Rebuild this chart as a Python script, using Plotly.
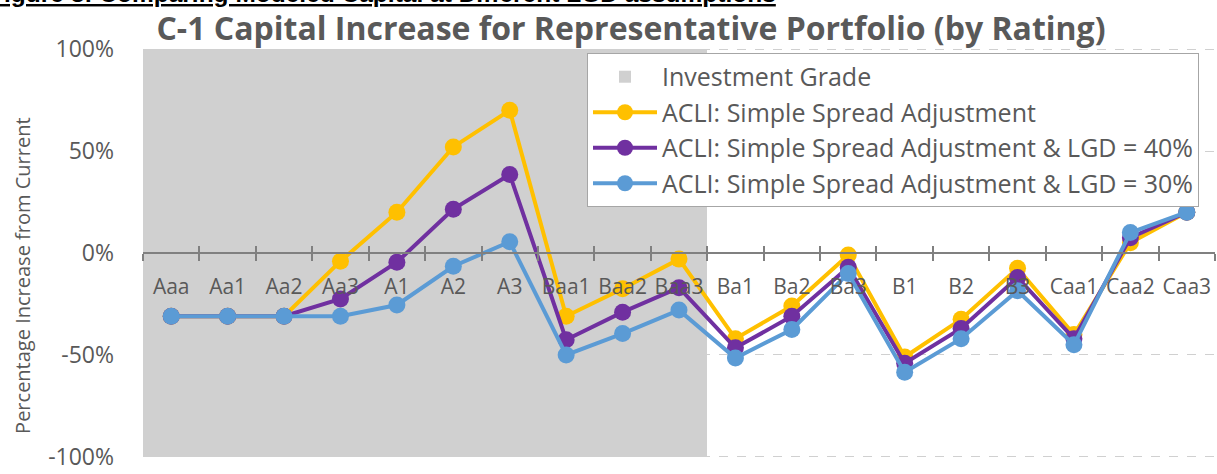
import plotly.graph_objects as go

categories = ["Aaa", "Aa1", "Aa2", "Aa3", "A1", "A2", "A3", "Baa1", "Baa2", "Baa3",
              "Ba1", "Ba2", "Ba3", "B1", "B2", "B3", "Caa1", "Caa2", "Caa3"]
investment_grade = ["Aaa", "Aa1", "Aa2", "Aa3", "A1", "A2", "A3", "Baa1", "Baa2", "Baa3"]

simple_spread = [-31, -31, -31, -4, 20, 52, 70, -31, -17.5, -3,
                 -42, -26, -1, -51, -32.5, -7.5, -40, 5, 20]
lgd_40 = [-31, -31, -31, -22.5, -4.5, 21.5, 38.5, -42.5, -29, -17,
          -46.5, -31, -7, -54, -37, -12, -42, 7.5, 20]
lgd_30 = [-31, -31, -31, -31, -25.5, -6.5, 5.5, -50, -39.5, -28,
          -51.5, -37.5, -10, -58.5, -42, -18.5, -45, 10, 20]

y_min, y_max = -100, 100
y_ticks = [-100, -50, 0, 50, 100]
y_tick_labels = ["-100%", "-50%", "0%", "50%", "100%"]

series_names = ["ACLI: Simple Spread Adjustment",
                "ACLI: Simple Spread Adjustment & LGD = 40%",
                "ACLI: Simple Spread Adjustment & LGD = 30%"]
series_colors = ["#FFC000", "#7030A0", "#5B9BD5"]

W, H = 1217, 474
L, R, T, B = 143, 2, 48, 14
pw, ph = W - L - R, H - T - B

def px_x(p):
    return (p - L) / pw

def px_y(p):
    return (H - B - p) / ph

grey_text = "#595959"
font_family = "'Open Sans', 'Noto Sans', sans-serif"

fig = go.Figure()

fig.add_trace(go.Bar(
    x=investment_grade,
    y=[y_max - y_min] * len(investment_grade),
    base=[y_min] * len(investment_grade),
    width=1,
    marker=dict(color="#d0d0d0", line=dict(width=0)),
    name="Investment Grade",
    hoverinfo="skip",
))

for name, vals, col in zip(series_names, [simple_spread, lgd_40, lgd_30], series_colors):
    fig.add_trace(go.Scatter(
        x=categories, y=vals, name=name, mode="lines+markers",
        line=dict(color=col, width=4),
        marker=dict(color=col, size=17),
    ))

pad = 0.5
fig.update_layout(
    width=W, height=H,
    margin=dict(l=L, r=R, t=T, b=B),
    paper_bgcolor="white", plot_bgcolor="white",
    font=dict(family=font_family, color=grey_text),
    bargap=0,
    showlegend=True,
    title=dict(
        text="<b>C-1 Capital Increase for Representative Portfolio (by Rating)</b>",
        x=631 / W, xref="container", xanchor="center",
        y=1 - 29 / H, yref="container", yanchor="middle",
        font=dict(size=32, color=grey_text, family=font_family),
    ),
    legend=dict(
        x=px_x(587), y=px_y(53), xanchor="left", yanchor="top",
        bgcolor="white", bordercolor="#a6a6a6", borderwidth=1,
        font=dict(size=25, color=grey_text, family=font_family),
        traceorder="normal", itemwidth=64,
    ),
    xaxis=dict(
        type="category", categoryorder="array", categoryarray=categories,
        range=[-0.5, len(categories) - 0.5],
        anchor="free", position=0.5,
        showline=True, linecolor="#808080", linewidth=2,
        ticks="outside", tickson="boundaries", ticklen=7, tickwidth=1.5, tickcolor="#808080",
        showgrid=False, tickangle=0,
        tickfont=dict(size=21, color=grey_text, family=font_family),
        ticklabelstandoff=15,
    ),
    xaxis2=dict(
        overlaying="x", anchor="free", position=0.5,
        range=[-0.5, len(categories) - 0.5],
        tick0=-0.5, dtick=1,
        ticks="inside", ticklen=7, tickwidth=1.5, tickcolor="#808080",
        showticklabels=False, showgrid=False, showline=False, zeroline=False,
    ),
    yaxis=dict(
        range=[y_min - pad, y_max + pad], tickvals=y_ticks, ticktext=y_tick_labels,
        showgrid=True, gridcolor="#d0d0d0", griddash="dash", gridwidth=1,
        zeroline=False, showline=False,
        tickfont=dict(size=23, color=grey_text, family=font_family),
        ticklabelstandoff=28, ticklabeloverflow="allow",
    ),
    annotations=[
        dict(text="Percentage Increase from Current", textangle=-90,
             xref="paper", yref="paper", x=px_x(23), y=px_y(277),
             xanchor="center", yanchor="middle", showarrow=False,
             font=dict(size=20, color=grey_text, family=font_family)),
        dict(text="<u><b>Figure 3: Comparing Modeled Capital at Different LGD assumptions</b></u>",
             xref="paper", yref="paper", x=px_x(-13), y=px_y(-6.5),
             xanchor="left", yanchor="middle", showarrow=False,
             font=dict(size=24.5, color="#000000", family="Liberation Sans, Arial, sans-serif")),
    ],
)

# invisible trace to activate xaxis2 ticks
fig.add_trace(go.Scatter(x=[0], y=[0], xaxis="x2", mode="markers",
                         marker=dict(opacity=0), showlegend=False, hoverinfo="skip"))

fig.write_html("out.html", config={"displayModeBar": False},
               post_script="document.body.style.margin='0px';")
